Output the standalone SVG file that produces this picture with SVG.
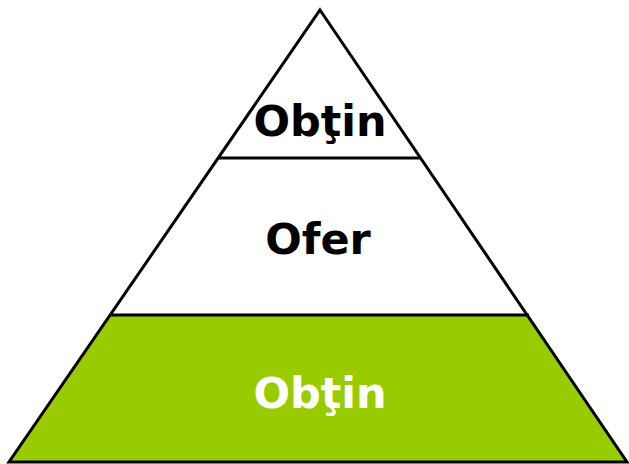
<svg xmlns="http://www.w3.org/2000/svg" width="629" height="464" viewBox="0 0 629 464">
<style>
.lbl{font-family:"DejaVu Sans","Liberation Sans",sans-serif;font-weight:bold;font-size:43px;text-anchor:middle}
.edge{fill:none;stroke:#000;stroke-width:3}
</style>
<rect width="629" height="464" fill="#fff"/>
<g id="tier-bottom">
<polygon points="110,315 529,315 627,462 9,462" fill="#99CC00"/>
<text class="lbl" x="320" y="408" fill="#fff">Obţin</text>
</g>
<g id="tier-middle">
<text class="lbl" x="318" y="254" fill="#000">Ofer</text>
</g>
<g id="tier-top">
<text class="lbl" x="320" y="136" fill="#000">Obţin</text>
</g>
<g id="connectors">
<polygon class="edge" points="320,10 627,462 9,462"/>
<line class="edge" x1="218" y1="158" x2="421" y2="158"/>
<line class="edge" x1="110" y1="315" x2="529" y2="315"/>
</g>
</svg>
